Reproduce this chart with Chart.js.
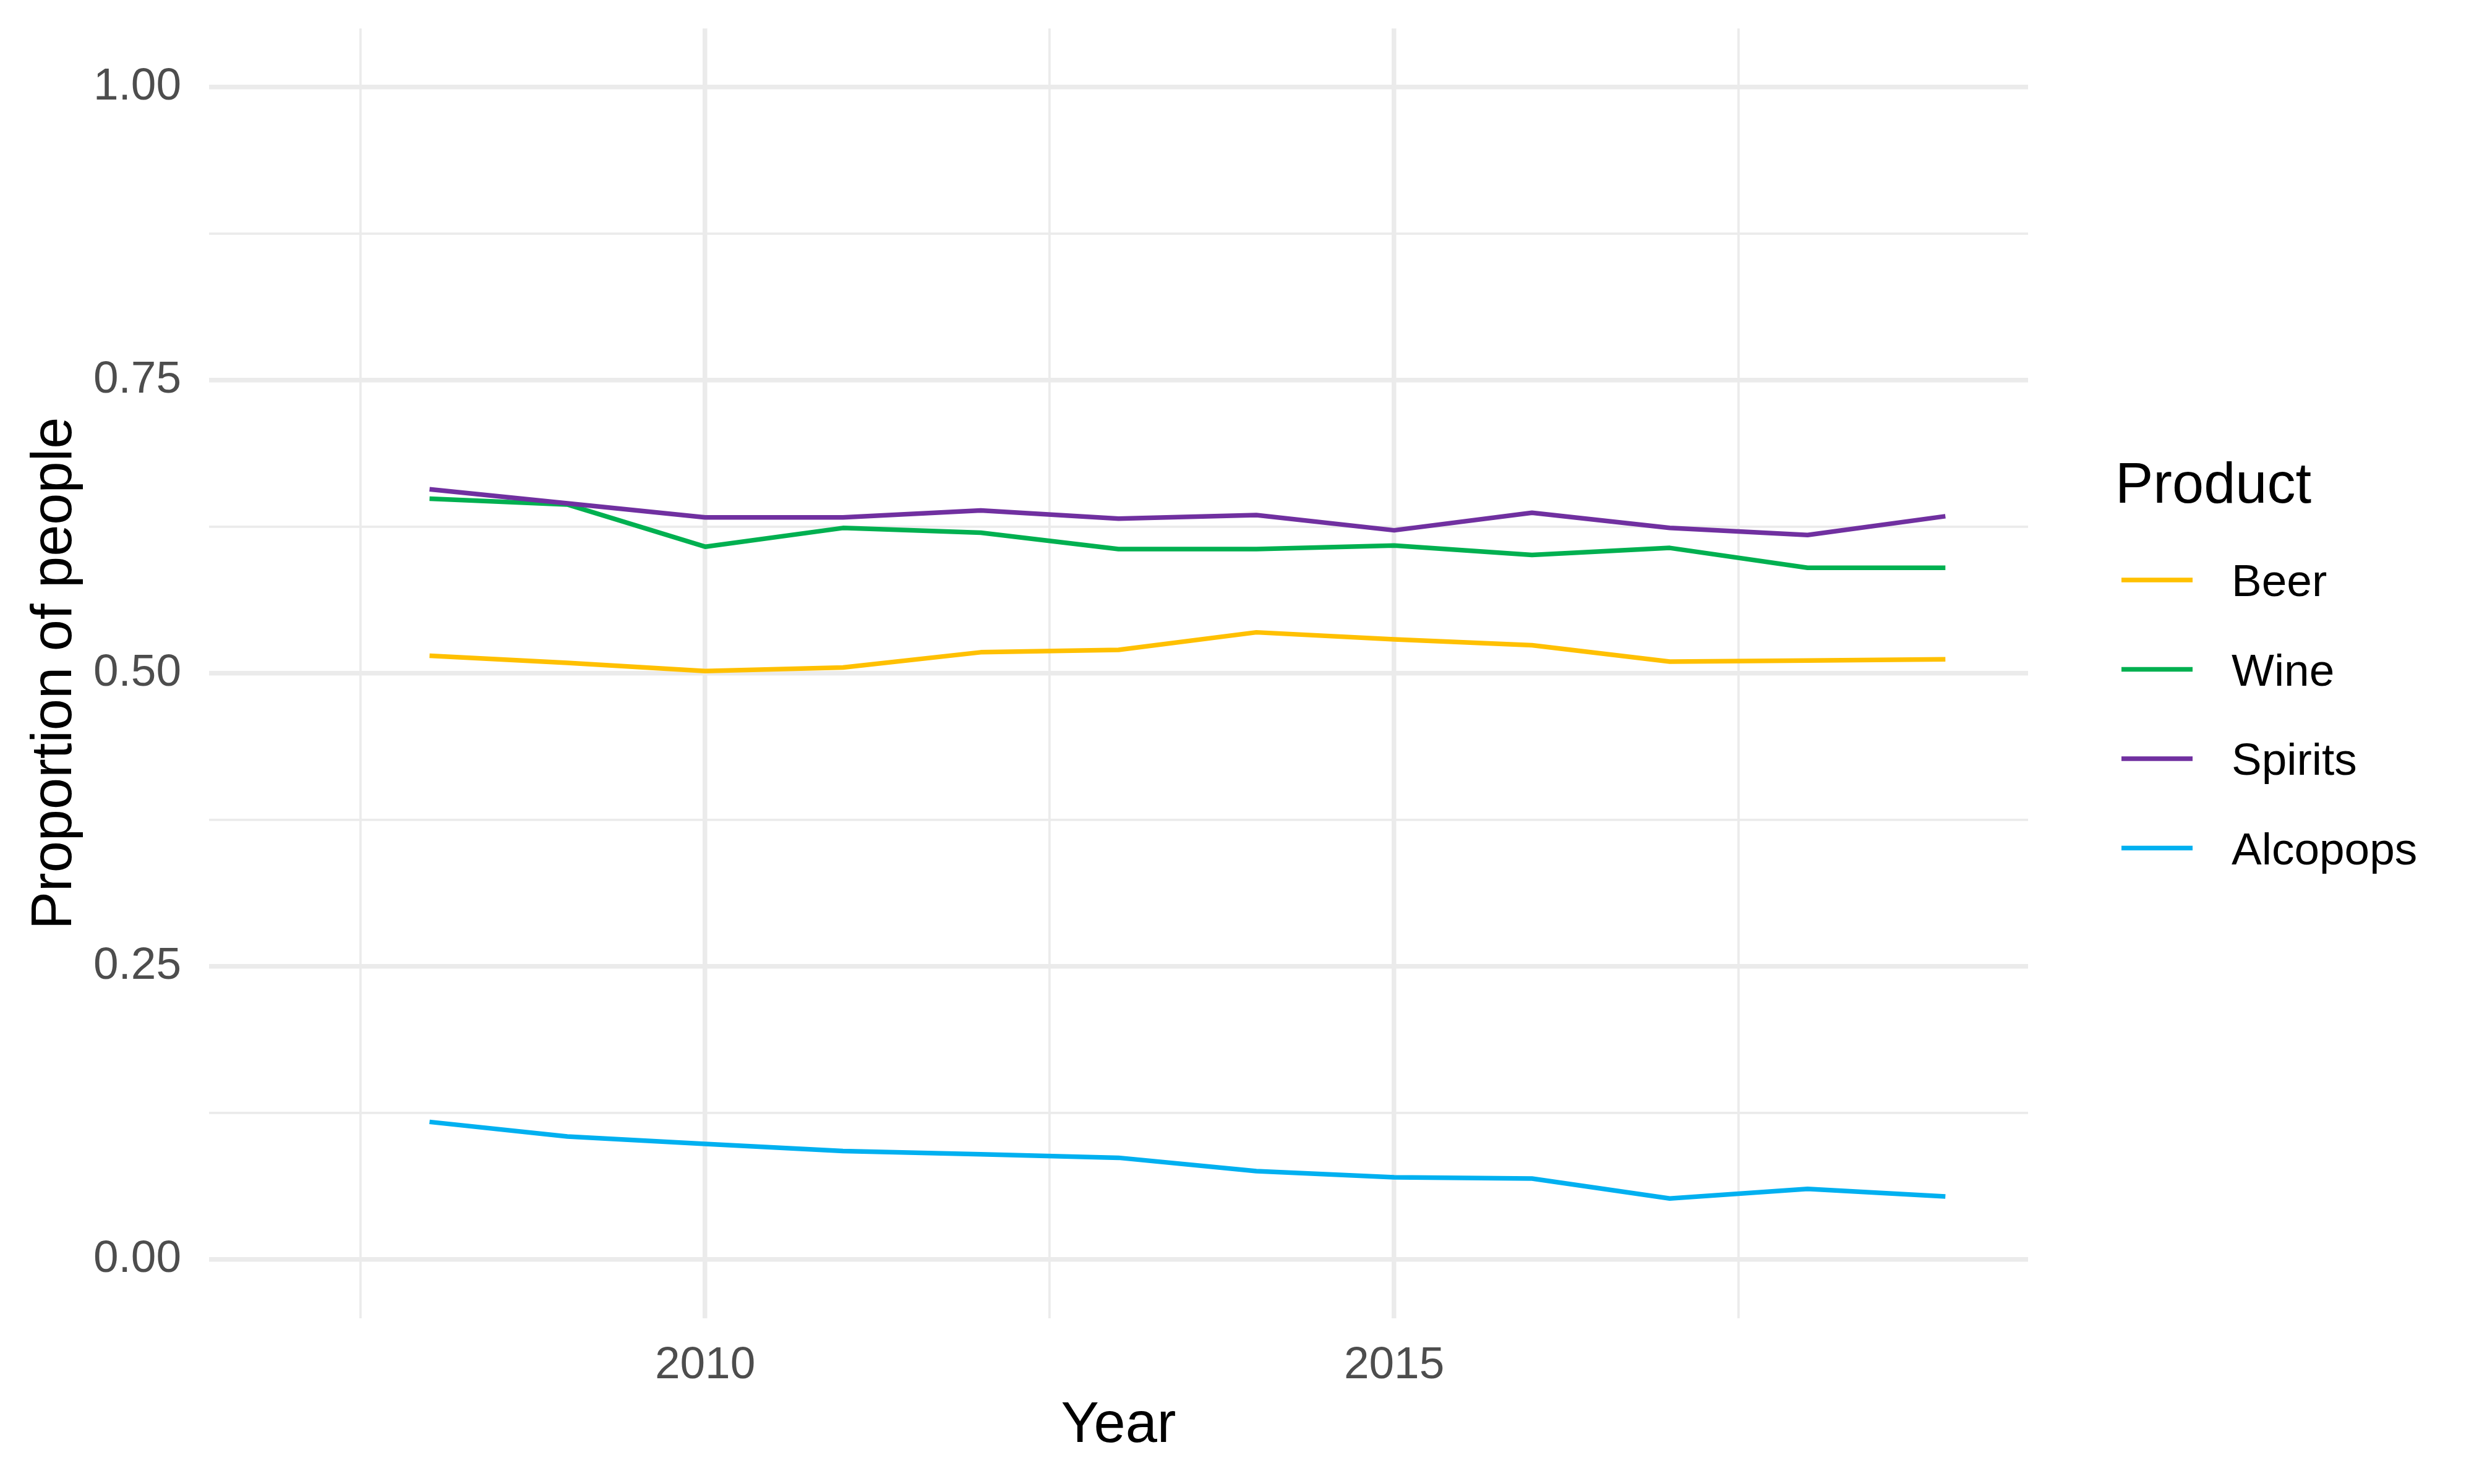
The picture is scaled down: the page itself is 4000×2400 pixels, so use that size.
<!DOCTYPE html>
<html>
<head>
<meta charset="utf-8">
<script src="https://cdn.jsdelivr.net/npm/chart.js@4"></script>
<style>
  body { margin: 0; background: #fff; }
  #wrap { width: 4000px; height: 2400px; }
</style>
</head>
<body>
<div id="wrap"><canvas id="chart" width="4000" height="2400"></canvas></div>
<script>
const years = [2008, 2009, 2010, 2011, 2012, 2013, 2014, 2015, 2016, 2017, 2018, 2019];
const products = ["Beer", "Wine", "Spirits", "Alcopops"];
const colours = ["#FFC000", "#00B050", "#7030A0", "#00B0F0"];

const beer = [0.515, 0.509, 0.502, 0.505, 0.518, 0.520, 0.535, 0.529, 0.524, 0.510, 0.511, 0.512];
const wine = [0.649, 0.644, 0.608, 0.624, 0.620, 0.606, 0.606, 0.609, 0.601, 0.607, 0.590, 0.590];
const spirits = [0.657, 0.645, 0.633, 0.633, 0.639, 0.632, 0.635, 0.622, 0.637, 0.624, 0.618, 0.634];
const alcopops = [0.1175, 0.105, 0.0987, 0.0926, 0.0899, 0.0869, 0.0755, 0.0702, 0.0692, 0.0522, 0.0604, 0.0539];

const xMajor = [2010, 2015];
const xMinor = [2007.5, 2012.5, 2017.5];
const yMajor = [0, 0.25, 0.5, 0.75, 1];
const yMinor = [0.125, 0.375, 0.625, 0.875];

const FONT = '"Liberation Sans", Arial, sans-serif';
const GRID = "#EBEBEB";

const series = [beer, wine, spirits, alcopops];

const datasets = series.map((vals, i) => ({
  label: products[i],
  data: years.map((yr, j) => ({x: yr, y: vals[j]})),
  borderColor: colours[i],
  backgroundColor: colours[i],
  borderWidth: 7.5,
  pointRadius: 0,
  tension: 0,
  borderJoinStyle: 'round',
  borderCapStyle: 'butt',
  order: series.length - i
}));

function setTicks(major, minor) {
  return function (scale) {
    scale.ticks = major.concat(minor).sort((a, b) => a - b).map(v => ({value: v, major: major.includes(v)}));
  };
}

// ggplot-style legend on the right
const sideLegend = {
  id: 'sideLegend',
  afterDraw(chart) {
    const ctx = chart.ctx;
    ctx.save();
    ctx.fillStyle = "#000";
    ctx.textBaseline = 'alphabetic';
    ctx.font = '92px ' + FONT;
    ctx.fillText("Product", 3420, 813);
    ctx.font = '73px ' + FONT;
    chart.data.datasets.forEach((ds, i) => {
      const yc = 938 + i * 144.5;
      ctx.strokeStyle = ds.borderColor;
      ctx.lineWidth = 7.5;
      ctx.beginPath();
      ctx.moveTo(3430, yc);
      ctx.lineTo(3545, yc);
      ctx.stroke();
      ctx.fillStyle = "#000";
      ctx.fillText(ds.label, 3608, yc + 26);
    });
    ctx.restore();
  }
};

new Chart(document.getElementById('chart'), {
  type: 'line',
  data: { datasets: datasets },
  plugins: [sideLegend],
  options: {
    responsive: false,
    animation: false,
    devicePixelRatio: 1,
    layout: { padding: { left: 0, top: 46, right: 721, bottom: 0 } },
    plugins: {
      legend: { display: false },
      tooltip: { enabled: false }
    },
    scales: {
      x: {
        type: 'linear',
        min: 2006.4,
        max: 2019.6,
        afterBuildTicks: setTicks(xMajor, xMinor),
        afterFit(scale) {
          scale.height = 268;
          scale.paddingLeft = 0;
          scale.paddingRight = 0;
        },
        border: { display: false },
        grid: {
          color: GRID,
          drawTicks: false,
          lineWidth: c => (c.tick && xMajor.includes(c.tick.value)) ? 7.5 : 3.75
        },
        ticks: {
          padding: 33,
          color: "#4D4D4D",
          font: { family: FONT, size: 73 },
          maxRotation: 0,
          autoSkip: false,
          callback: v => xMajor.includes(v) ? String(v) : ''
        },
        title: {
          display: true,
          text: 'Year',
          color: "#000",
          font: { family: FONT, size: 92 },
          padding: { top: 0, bottom: 38 }
        }
      },
      y: {
        type: 'linear',
        min: -0.05,
        max: 1.05,
        afterBuildTicks: setTicks(yMajor, yMinor),
        afterFit(scale) {
          scale.width = 338;
          scale.paddingTop = 0;
          scale.paddingBottom = 0;
        },
        border: { display: false },
        grid: {
          color: GRID,
          drawTicks: false,
          lineWidth: c => (c.tick && yMajor.includes(c.tick.value)) ? 7.5 : 3.75
        },
        ticks: {
          padding: 45,
          color: "#4D4D4D",
          font: { family: FONT, size: 73 },
          autoSkip: false,
          callback: v => yMajor.includes(v) ? v.toFixed(2) : ''
        },
        title: {
          display: true,
          text: 'Proportion of people',
          color: "#000",
          font: { family: FONT, size: 92 },
          padding: { top: 34, bottom: 0 }
        }
      }
    }
  }
});
</script>
</body>
</html>
